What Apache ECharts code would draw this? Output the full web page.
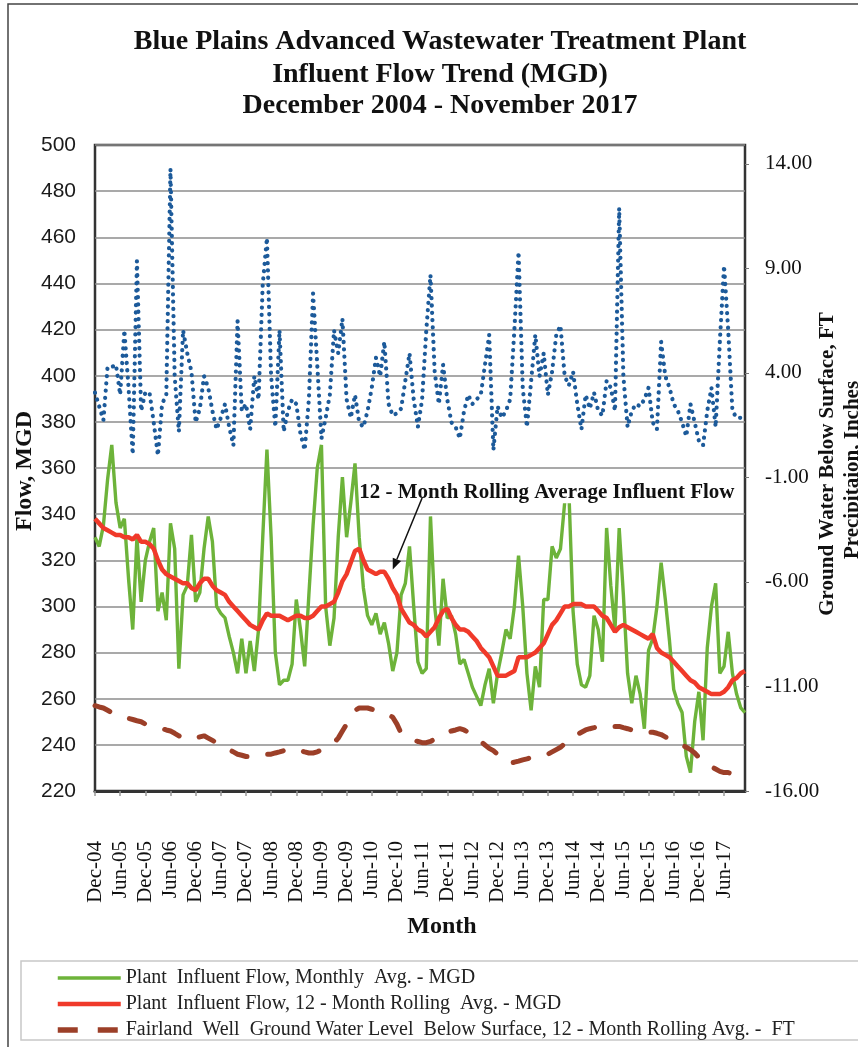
<!DOCTYPE html>
<html>
<head>
<meta charset="utf-8">
<script src="https://cdn.jsdelivr.net/npm/echarts@6/dist/echarts.min.js"></script>
<style>
html,body{margin:0;padding:0;background:#fff;}
#c{width:858px;height:1047px;}
</style>
</head>
<body>
<div id="c"></div>
<script>
// ---- Data ----
var monthNames = ['Jan','Feb','Mar','Apr','May','Jun','Jul','Aug','Sep','Oct','Nov','Dec'];
var categories = [];
for (var k = 0; k < 156; k++) {
  var m = (11 + k) % 12, yr = 2004 + Math.floor((11 + k) / 12);
  categories.push(monthNames[m] + '-' + String(yr % 100).padStart(2, '0'));
}

// Plant influent flow, monthly average (MGD)
var flowMonthly = [
330,326,335,355,370,345,334,338,312,290,330,302,320,328,334,298,306,294,336,325,
273,305,309,331,302,306,325,339,328,300,297,295,287,280,271,286,271,285,272,290,
330,368,330,280,266,268,268,275,303,290,274,305,335,360,370,300,283,295,330,356,
330,345,362,330,308,296,292,297,288,293,284,272,280,305,310,326,300,276,271,273,
339,300,283,312,295,296,288,275,277,271,265,261,257,266,273,258,271,280,290,286,
300,322,300,271,255,274,265,303,303,326,321,325,345,350,298,275,266,265,270,296,
290,276,334,309,290,334,305,271,258,270,262,247,281,286,300,319,303,285,264,258,
254,235,228,250,263,242,282,300,310,271,274,289,271,262,256,254
];

// Plant influent flow, 12-month rolling average (MGD)
var flowRolling = [
338,336,334,333,332,331,331,330,330,329,331,328,328,327,325,320,316,314,313,312,
311,310,310,308,307,310,312,312,309,307,306,305,302,300,298,296,294,292,291,290,
294,297,296,296,296,295,294,295,296,296,295,295,296,298,300,300,301,302,306,311,
314,319,324,325,320,316,315,314,315,315,312,308,305,299,296,293,292,290,289,287,
289,291,295,298,299,295,292,290,290,289,287,285,282,280,278,274,270,270,270,271,
272,278,278,278,279,280,282,284,288,292,294,297,300,300,301,301,301,300,300,300,
298,296,295,292,289,291,292,291,290,289,288,287,286,288,282,280,279,278,276,274,
272,270,268,267,265,264,263,262,262,262,263,265,268,269,271,272
];

// Fairland well ground water level below surface, 12-month rolling average (FT)
var groundWater = [
-11.92,-11.98,-12.03,-12.14,-12.25,-12.36,-12.42,-12.47,-12.53,-12.58,-12.64,-12.69,-12.80,-12.86,-12.91,-12.97,-13.02,-13.08,-13.13,-13.24,
-13.36,-13.47,-13.52,-13.52,-13.47,-13.41,-13.36,-13.47,-13.58,-13.69,-13.80,-13.91,-14.02,-14.13,-14.24,-14.29,-14.35,-14.35,-14.35,-14.29,
-14.24,-14.24,-14.24,-14.18,-14.13,-14.07,-14.02,-13.96,-14.02,-14.07,-14.13,-14.18,-14.18,-14.13,-14.02,-13.91,-13.80,-13.69,-13.47,-13.13,
-12.80,-12.47,-12.14,-12.03,-12.03,-12.03,-12.09,-12.14,-12.25,-12.31,-12.36,-12.47,-12.80,-13.24,-13.36,-13.47,-13.58,-13.63,-13.69,-13.69,
-13.63,-13.52,-13.41,-13.30,-13.19,-13.13,-13.08,-13.02,-13.08,-13.19,-13.36,-13.47,-13.63,-13.80,-13.96,-14.07,-14.24,-14.40,-14.57,-14.68,
-14.62,-14.57,-14.51,-14.46,-14.40,-14.35,-14.35,-14.29,-14.24,-14.13,-14.02,-13.91,-13.74,-13.58,-13.41,-13.30,-13.19,-13.08,-13.02,-12.97,
-12.91,-12.86,-12.86,-12.86,-12.91,-12.91,-12.97,-13.02,-13.08,-13.19,-13.19,-13.19,-13.19,-13.19,-13.24,-13.30,-13.41,-13.52,-13.58,-13.69,
-13.80,-13.91,-14.02,-14.18,-14.40,-14.62,-14.73,-14.84,-14.95,-15.06,-15.12,-15.12,-15.17,-15.17,-15.17,-15.17
];

// Monthly precipitation (inches)
var precipitation = [
3.06,2.40,1.74,4.28,4.28,4.39,2.95,6.04,3.29,0.10,9.35,2.18,3.06,3.06,1.63,0.05,2.51,2.95,13.75,3.84,
1.19,6.04,4.94,4.06,1.63,2.29,3.84,3.29,2.18,1.30,1.85,2.51,1.41,0.53,6.48,2.18,2.51,1.30,3.84,2.73,
8.24,10.45,3.84,1.41,6.04,1.19,2.18,2.73,2.51,1.08,0.31,2.73,7.80,4.39,0.86,1.85,2.95,6.04,4.94,6.59,
2.73,1.85,2.95,1.63,1.41,2.18,3.29,4.72,3.84,5.49,2.51,1.96,2.07,2.29,3.62,4.94,2.73,1.41,2.73,6.04,
8.68,4.06,2.51,4.39,2.73,1.63,1.41,0.86,2.18,2.95,2.51,2.73,2.95,4.39,5.82,0.31,2.40,1.85,2.18,2.73,
6.04,9.79,3.29,1.41,3.62,5.82,3.84,4.94,2.95,4.06,5.82,6.26,3.84,3.40,4.06,2.51,1.30,2.95,2.29,3.06,
2.18,1.96,3.62,3.29,2.18,11.88,3.84,1.41,2.18,2.51,2.40,2.73,3.29,1.63,1.30,5.49,3.84,3.29,2.51,2.18,
1.63,0.97,2.51,1.63,0.75,0.53,2.18,3.29,1.41,5.49,9.13,6.04,2.18,1.85,1.85,1.96
];

var leftTicks = { min: 220, max: 500, interval: 20 };
var rightTickValues = [-16, -11, -6, -1, 4, 9, 14];

var seriesNames = [
  'Plant  Influent Flow, Monthly  Avg. - MGD',
  'Plant  Influent Flow, 12 - Month Rolling  Avg. - MGD',
  'Fairland  Well  Ground Water Level  Below Surface, 12 - Month Rolling Avg. -  FT'
];
var seriesColors = ['#6db33a', '#f03a2a', '#9c3f28', '#1c5a9a'];

// ---- Chart ----
var SERIF = '"Liberation Serif", "Times New Roman", serif';
var SANS = '"Liberation Sans", Arial, sans-serif';
var chart = echarts.init(document.getElementById('c'), null, { renderer: 'canvas' });

var option = {
  animation: false,
  backgroundColor: '#fff',
  grid: { left: 95, right: 113, top: 145, bottom: 256, show: true, borderColor: '#333', borderWidth: 2.5, backgroundColor: 'transparent' },
  legend: {
    data: [
      { name: seriesNames[0], lineStyle: { width: 3.5, color: seriesColors[0] } },
      { name: seriesNames[1], lineStyle: { width: 4.5, color: seriesColors[1] } },
      { name: seriesNames[2], lineStyle: { width: 5.5, color: seriesColors[2], type: [20, 20], cap: 'butt' } }
    ],
    orient: 'vertical',
    left: 50, top: 963,
    itemWidth: 63, itemHeight: 3, itemGap: 6,
    itemStyle: { opacity: 0, borderWidth: 0 },
    textStyle: { fontFamily: SERIF, fontSize: 20, color: '#222' }
  },
  xAxis: {
    type: 'category', data: categories, boundaryGap: false,
    axisLine: { show: true, onZero: false, lineStyle: { color: '#333', width: 3 } },
    axisTick: { show: true, interval: 5, length: 5, lineStyle: { color: '#999', width: 1.5 } },
    axisLabel: { interval: 5, rotate: 90, margin: 50, fontFamily: SERIF, fontSize: 21, color: '#111' },
    splitLine: { show: false }
  },
  yAxis: [
    {
      type: 'value', min: leftTicks.min, max: leftTicks.max, interval: leftTicks.interval,
      axisLine: { show: false }, axisTick: { show: false },
      axisLabel: { fontFamily: SANS, fontSize: 21, color: '#1a1a1a', margin: 19 },
      splitLine: { show: true, lineStyle: { color: '#8c8c8c', width: 1.5 } }
    },
    {
      type: 'value', min: -16, max: 14.9,
      axisLine: { show: false },
      axisTick: { show: true, customValues: rightTickValues, length: 4, lineStyle: { color: '#777' } },
      axisLabel: { customValues: rightTickValues, fontFamily: SERIF, fontSize: 21, color: '#111', margin: 20,
        formatter: function (v) { return v.toFixed(2); } },
      splitLine: { show: false }
    }
  ],
  series: [
    { name: seriesNames[0], type: 'line', yAxisIndex: 0, data: flowMonthly, symbol: 'none', z: 2,
      itemStyle: { color: seriesColors[0] }, lineStyle: { color: seriesColors[0], width: 3.4 } },
    { name: seriesNames[1], type: 'line', yAxisIndex: 0, data: flowRolling, symbol: 'none', z: 4,
      itemStyle: { color: seriesColors[1] }, lineStyle: { color: seriesColors[1], width: 4.5 } },
    { name: seriesNames[2], type: 'line', yAxisIndex: 1, data: groundWater, symbol: 'none', z: 3,
      itemStyle: { color: seriesColors[2] }, lineStyle: { color: seriesColors[2], width: 5, type: [16, 21], cap: 'round' } },
    { name: 'Precipitation', type: 'line', yAxisIndex: 1, data: precipitation, symbol: 'none', z: 5,
      itemStyle: { color: seriesColors[3] }, lineStyle: { color: seriesColors[3], width: 4.2, type: [0.1, 7.2], cap: 'round' } }
  ]
};
chart.setOption(option);

// ---- Annotations & texts ----
var tip = chart.convertToPixel({ xAxisIndex: 0, yAxisIndex: 0 }, [70.8, 316]);
var tail = chart.convertToPixel({ xAxisIndex: 0, yAxisIndex: 0 }, [78.2, 347]);
var dx = tip[0] - tail[0], dy = tip[1] - tail[1], L = Math.sqrt(dx * dx + dy * dy);
var ux = dx / L, uy = dy / L, hl = 11, hw = 4.5;
var base = [tip[0] - ux * hl, tip[1] - uy * hl];
var head = [tip, [base[0] - uy * hw, base[1] + ux * hw], [base[0] + uy * hw, base[1] - ux * hw]];
var labelPos = chart.convertToPixel({ xAxisIndex: 0, yAxisIndex: 0 }, [63.2, 349.5]);

chart.setOption({
  graphic: [
    { type: 'rect', z: -10, silent: true, shape: { x: 8, y: 4, width: 900, height: 1100 }, style: { fill: 'none', stroke: '#444', lineWidth: 1.5 } },
    { type: 'rect', z: -10, silent: true, shape: { x: 21, y: 961, width: 900, height: 79 }, style: { fill: 'none', stroke: '#c8c8c8', lineWidth: 1.5 } },
    { type: 'text', x: 440, y: 42, style: { text: 'Blue Plains Advanced Wastewater Treatment Plant', font: 'bold 28px ' + SERIF, fill: '#111', textAlign: 'center', textVerticalAlign: 'middle' } },
    { type: 'text', x: 440, y: 75, style: { text: 'Influent Flow Trend (MGD)', font: 'bold 28px ' + SERIF, fill: '#111', textAlign: 'center', textVerticalAlign: 'middle' } },
    { type: 'text', x: 440, y: 106, style: { text: 'December 2004 - November 2017', font: 'bold 28px ' + SERIF, fill: '#111', textAlign: 'center', textVerticalAlign: 'middle' } },
    { type: 'text', x: 25, y: 471, rotation: Math.PI / 2, style: { text: 'Flow, MGD', font: 'bold 24px ' + SERIF, fill: '#111', textAlign: 'center', textVerticalAlign: 'middle' } },
    { type: 'text', x: 828, y: 464, rotation: Math.PI / 2, style: { text: 'Ground Water Below Surface, FT', font: 'bold 21px ' + SERIF, fill: '#111', textAlign: 'center', textVerticalAlign: 'middle' } },
    { type: 'text', x: 853, y: 470, rotation: Math.PI / 2, style: { text: 'Precipitaion, Inches', font: 'bold 21px ' + SERIF, fill: '#111', textAlign: 'center', textVerticalAlign: 'middle' } },
    { type: 'text', x: 442, y: 927, style: { text: 'Month', font: 'bold 24px ' + SERIF, fill: '#111', textAlign: 'center', textVerticalAlign: 'middle' } },
    { type: 'rect', z: 100, silent: true, shape: { x: labelPos[0] + 3, y: labelPos[1] - 11, width: 378, height: 22 }, style: { fill: '#fff' } },
    { type: 'text', z: 101, x: labelPos[0], y: labelPos[1], style: { text: '12 - Month Rolling Average Influent Flow', font: 'bold 21px ' + SERIF, fill: '#111', textAlign: 'left', textVerticalAlign: 'middle' } },
    { type: 'line', z: 101, shape: { x1: tail[0], y1: tail[1], x2: base[0], y2: base[1] }, style: { stroke: '#111', lineWidth: 1.5 } },
    { type: 'polygon', z: 101, shape: { points: head }, style: { fill: '#111' } }
  ]
});
</script>
</body>
</html>
